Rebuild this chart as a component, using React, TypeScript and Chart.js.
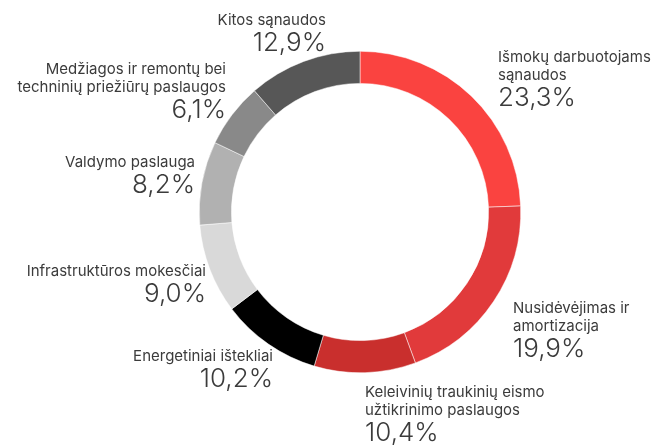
import React, { useEffect, useRef } from "react";
import { Chart, registerables } from "chart.js";

Chart.register(...registerables);

const categories: string[][] = [
  ["Išmokų darbuotojams", "sąnaudos"],
  ["Nusidėvėjimas ir", "amortizacija"],
  ["Keleivinių traukinių eismo", "užtikrinimo paslaugos"],
  ["Energetiniai ištekliai"],
  ["Infrastruktūros mokesčiai"],
  ["Valdymo paslauga"],
  ["Medžiagos ir remontų bei", "techninių priežiūrų paslaugos"],
  ["Kitos sąnaudos"],
];
// arc sizes as drawn in the picture
const values: number[] = [24.4, 20.0, 10.2, 10.1, 9.0, 8.4, 6.5, 11.4];
// percentages as printed
const percentLabels: string[] = ["23,3%", "19,9%", "10,4%", "10,2%", "9,0%", "8,2%", "6,1%", "12,9%"];
const colors: string[] = ["#fa4340", "#e13a3b", "#c92f2d", "#000000", "#d9d9d9", "#b1b1b1", "#898989", "#575757"];

// label anchor relative to doughnut center: dx, dy of first text baseline, alignment
const labelLayout: { dx: number; dy: number; align: CanvasTextAlign }[] = [
  { dx: 138, dy: -150, align: "left" },
  { dx: 153, dy: 101, align: "left" },
  { dx: 5, dy: 185, align: "left" },
  { dx: -87, dy: 149, align: "right" },
  { dx: -154, dy: 64, align: "right" },
  { dx: -165, dy: -45, align: "right" },
  { dx: -134, dy: -138, align: "right" },
  { dx: -34, dy: -187, align: "right" },
];

const labelPlugin = {
  id: "outsideLabels",
  afterDraw(chart: any) {
    const meta = chart.getDatasetMeta(0);
    const arc = meta.data[0];
    if (!arc) return;
    const cx = arc.x;
    const cy = arc.y;
    const ctx = chart.ctx;
    ctx.save();
    ctx.fillStyle = "#3b3b3b";
    ctx.textBaseline = "alphabetic";
    categories.forEach((lines, i) => {
      const l = labelLayout[i];
      const x = cx + l.dx;
      let y = cy + l.dy;
      ctx.textAlign = l.align;
      ctx.font = "400 15px Inter";
      lines.forEach((line, j) => {
        ctx.fillText(line, x, y + j * 18);
      });
      y += (lines.length - 1) * 18 + 26;
      ctx.font = "300 26px Inter";
      ctx.fillText(percentLabels[i], x, y);
    });
    ctx.restore();
  },
};

export default function App() {
  const ref = useRef<HTMLCanvasElement>(null);
  useEffect(() => {
    if (!ref.current) return;
    const chart = new Chart(ref.current, {
      type: "doughnut",
      data: {
        labels: categories.map((c) => c.join(" ")),
        datasets: [
          {
            data: values,
            backgroundColor: colors,
            borderColor: "#ffffff",
            borderWidth: 0.5,
          },
        ],
      },
      options: {
        animation: false,
        responsive: false,
        cutout: "80%",
        layout: { padding: { left: 199, right: 132, top: 51, bottom: 72 } },
        plugins: {
          legend: { display: false },
          tooltip: { enabled: false },
        },
      },
      plugins: [labelPlugin],
    });
    return () => chart.destroy();
  }, []);
  return (
    <div style={{ position: "fixed", left: 0, top: 0, width: 653, height: 445, background: "#fff" }}>
      <canvas ref={ref} width={653} height={445} style={{ width: 653, height: 445 }} />
    </div>
  );
}
